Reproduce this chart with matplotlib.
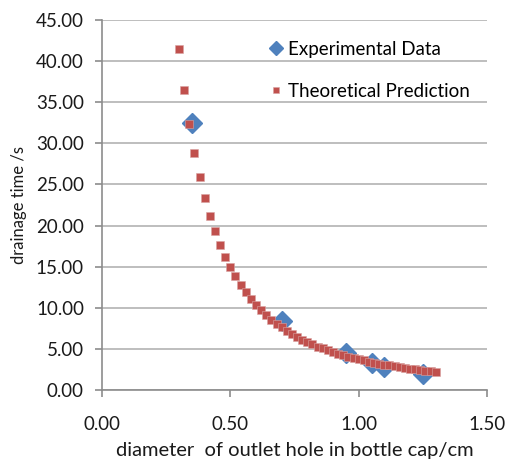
import matplotlib
matplotlib.use('Agg')
matplotlib.rcParams.update({
    'font.family': ['Lato', 'DejaVu Sans'],
    'font.size': 13,
})
import matplotlib.pyplot as plt
from matplotlib.ticker import MultipleLocator, FormatStrFormatter

# Experimental measurements (diameter in cm, drainage time in s)
exp_diameter = [0.35, 0.70, 0.95, 1.05, 1.10, 1.25]
exp_time = [32.5, 8.4, 4.5, 3.3, 2.8, 2.0]

# Theoretical prediction, 0.30 .. 1.30 cm
theory_diameter = [
    0.30, 0.32, 0.34, 0.36, 0.38, 0.40, 0.42, 0.44, 0.46, 0.48,
    0.50, 0.52, 0.54, 0.56, 0.58, 0.60, 0.62, 0.64, 0.66, 0.68,
    0.70, 0.72, 0.74, 0.76, 0.78, 0.80, 0.82, 0.84, 0.86, 0.88,
    0.90, 0.92, 0.94, 0.96, 0.98, 1.00, 1.02, 1.04, 1.06, 1.08,
    1.10, 1.12, 1.14, 1.16, 1.18, 1.20, 1.22, 1.24, 1.26, 1.28, 1.30,
]
theory_time = [
    41.50, 36.47, 32.31, 28.82, 25.87, 23.34, 21.17, 19.29, 17.65, 16.21,
    14.94, 13.81, 12.81, 11.91, 11.10, 10.38, 9.72, 9.12, 8.57, 8.08,
    7.62, 7.20, 6.82, 6.47, 6.14, 5.84, 5.55, 5.29, 5.05, 4.82,
    4.61, 4.41, 4.23, 4.05, 3.89, 3.74, 3.59, 3.45, 3.32, 3.20,
    3.09, 2.98, 2.87, 2.78, 2.68, 2.59, 2.51, 2.43, 2.35, 2.28, 2.21,
]

BLUE = '#4f81bd'
RED = '#c0504d'
GRID = '#b3b3b3'
AXIS = '#8c8c8c'
TEXT = '#1a1a1a'

fig = plt.figure(figsize=(5.09, 4.61), dpi=100)
ax = fig.add_axes([102 / 509, 71 / 461, 385 / 509, 370 / 461])

ax.plot(exp_diameter, exp_time, linestyle='none', marker='D', markersize=10,
        color=BLUE, label='Experimental Data', zorder=3)
ax.plot(theory_diameter, theory_time, linestyle='none', marker='s', markersize=6,
        color=RED, markeredgecolor='#d9a3a2', markeredgewidth=0.4,
        label='Theoretical Prediction', zorder=4)

ax.set_xlim(0, 1.5)
ax.set_ylim(0, 45)
ax.xaxis.set_major_locator(MultipleLocator(0.5))
ax.yaxis.set_major_locator(MultipleLocator(5))
ax.xaxis.set_major_formatter(FormatStrFormatter('%.2f'))
ax.yaxis.set_major_formatter(FormatStrFormatter('%.2f'))

ax.grid(axis='y', color=GRID, linewidth=1.2)
ax.set_axisbelow(True)
for side in ('top', 'right'):
    ax.spines[side].set_visible(False)
for side in ('left', 'bottom'):
    ax.spines[side].set_color(AXIS)
    ax.spines[side].set_linewidth(1.2)
ax.tick_params(axis='both', direction='out', length=5, width=1.2, color=AXIS,
               labelsize=13.5, labelcolor=TEXT)
ax.tick_params(axis='x', pad=14)
ax.tick_params(axis='y', pad=8)

ax.set_xlabel('diameter  of outlet hole in bottle cap/cm', fontsize=14.5, color=TEXT, labelpad=6)
ax.set_ylabel('drainage time /s', fontsize=12, color=TEXT, labelpad=6)

leg = ax.legend(loc='upper right', bbox_to_anchor=(1.0, 0.99), frameon=False,
                fontsize=13.5, handletextpad=0.2, handlelength=0.9,
                labelspacing=1.35, markerscale=0.75)

plt.savefig('out.png', dpi=100)
